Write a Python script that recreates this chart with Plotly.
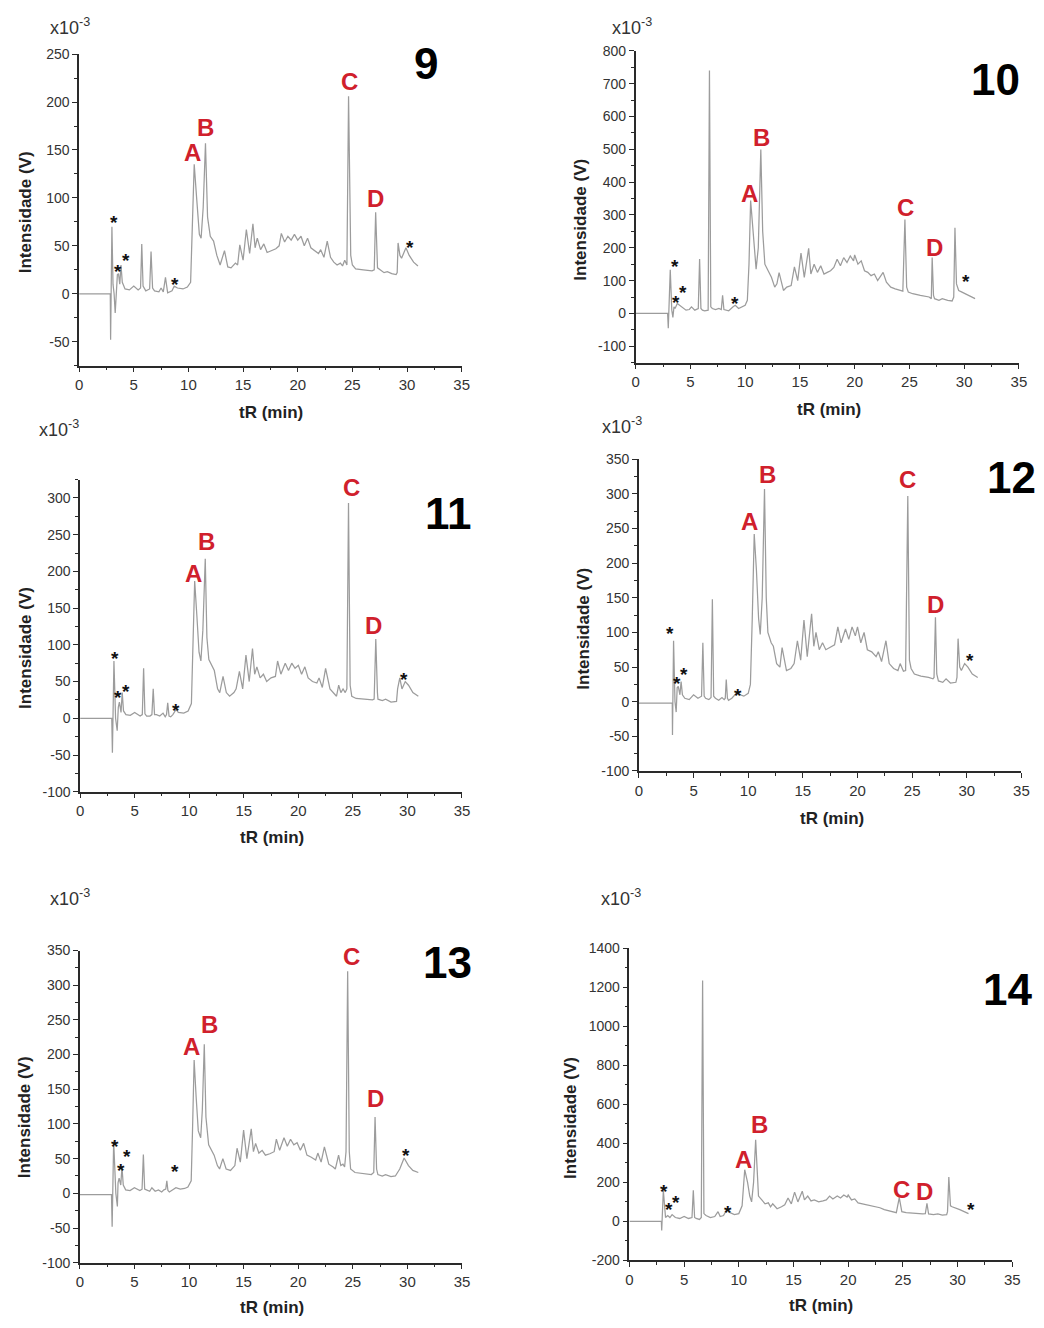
import plotly.graph_objects as go

# ---------------- data ----------------
# Sample 9
t9 = [
    0, 2.85, 2.88, 3.0, 3.1, 3.2, 3.3, 3.4, 3.5, 3.6,
    3.72, 3.83, 3.95, 4.2, 4.6, 5.0, 5.4, 5.62, 5.73, 5.85,
    6.1, 6.45, 6.58, 6.72, 6.9, 7.3, 7.5, 7.7, 7.9, 8.1,
    8.5, 8.7, 9.0, 9.5, 9.9, 10.2, 10.35, 10.53, 10.75, 11.0,
    11.16, 11.35, 11.56, 11.75, 12.0, 12.3, 12.6, 12.9, 13.3, 13.6,
    13.9, 14.3, 14.5, 14.7, 15.0, 15.3, 15.6, 15.9, 16.1, 16.3,
    16.6, 16.9, 17.2, 17.6, 18.0, 18.3, 18.5, 18.8, 19.1, 19.4,
    19.7, 20.0, 20.3, 20.6, 20.9, 21.2, 21.6, 21.9, 22.1, 22.4,
    22.7, 23.0, 23.3, 23.6, 23.9, 24.1, 24.3, 24.5, 24.65, 24.85,
    25.0, 25.3, 26.0, 26.8, 27.0, 27.13, 27.3, 27.5, 27.9, 28.2,
    28.6, 29.0, 29.1, 29.18, 29.35, 29.5, 29.9, 30.2, 30.6, 31.0]
i9 = [
    0, 0, -48, 70, 10, 0, -20, 5, 20, 21,
    10, 30, 12, 5, 4, 8, 4, 6, 52, 8,
    3, 5, 44, 6, 3, 2, 6, 2, 17, 1,
    3, 8, 6, 5, 7, 12, 60, 135, 100, 62,
    58, 90, 157, 80, 60, 55, 40, 30, 45, 28,
    27, 32, 30, 51, 35, 67, 42, 73, 48, 58,
    46, 52, 43, 45, 47, 50, 63, 54, 60, 56,
    62, 56, 60, 50, 58, 48, 45, 42, 46, 38,
    55, 38, 33, 30, 32, 29, 35, 30, 206, 40,
    30, 26, 25, 24, 25, 85, 27, 25, 22, 23,
    21, 20, 22, 53, 40, 37, 48, 40, 33, 29]

# Sample 10
t10 = [
    0, 2.92, 2.98, 3.16, 3.3, 3.4, 3.5, 3.6, 3.8, 4.0,
    4.3, 4.6, 4.9, 5.1, 5.4, 5.72, 5.84, 5.96, 6.1, 6.3,
    6.62, 6.74, 6.86, 7.0, 7.3, 7.6, 7.82, 7.94, 8.06, 8.2,
    8.5, 8.9, 9.1, 9.4, 9.7, 10.0, 10.2, 10.35, 10.5, 10.7,
    10.85, 11.0, 11.2, 11.43, 11.6, 11.8, 12.1, 12.4, 12.7, 12.9,
    13.1, 13.5, 13.8, 14.2, 14.5, 14.8, 15.1, 15.4, 15.8, 16.0,
    16.3, 16.6, 16.9, 17.2, 17.5, 17.8, 18.1, 18.4, 18.7, 19.0,
    19.3, 19.6, 19.9, 20.0, 20.3, 20.6, 20.9, 21.2, 21.5, 21.8,
    22.1, 22.6, 22.9, 23.3, 23.7, 24.1, 24.4, 24.59, 24.75, 24.9,
    25.3, 26.0, 26.8, 27.0, 27.08, 27.2, 27.3, 27.7, 28.0, 28.5,
    28.9, 29.05, 29.16, 29.3, 29.5, 29.8, 30.1, 30.5, 31.0]
i10 = [
    0, 0, -45, 133, 10, -12, 20, 15, 30, 25,
    15, 10, 12, 20, 10, 15, 166, 15, 10, 8,
    10, 740, 20, 15, 12, 15, 12, 55, 12, 10,
    8, 20, 25, 15, 20, 25, 40, 150, 344, 260,
    170, 135, 200, 499, 250, 150, 130, 110, 80, 90,
    124, 70, 80, 85, 142, 100, 184, 110, 198, 120,
    150, 125, 145, 120, 125, 130, 140, 165, 145, 170,
    155, 175, 160, 178, 150, 160, 130, 125, 115, 120,
    100, 125, 95, 80, 75, 70, 68, 286, 80, 65,
    60, 55, 50, 45, 170, 55, 45, 40, 45, 40,
    38, 50, 261, 90, 70, 65, 60, 52, 45]

# Sample 11
t11 = [
    0, 2.9, 2.96, 3.1, 3.25, 3.4, 3.5, 3.6, 3.75, 3.86,
    3.98, 4.2, 4.6, 5.0, 5.5, 5.7, 5.82, 5.94, 6.1, 6.4,
    6.58, 6.7, 6.82, 7.0, 7.3, 7.6, 7.8, 7.92, 8.03, 8.15,
    8.3, 8.5, 8.8, 9.0, 9.5, 9.9, 10.2, 10.32, 10.5, 10.7,
    10.9, 11.07, 11.25, 11.47, 11.62, 11.8, 12.1, 12.3, 12.6, 12.8,
    13.1, 13.4, 13.7, 14.1, 14.3, 14.6, 14.9, 15.2, 15.5, 15.8,
    16.0, 16.2, 16.5, 16.8, 17.1, 17.5, 17.9, 18.1, 18.4, 18.8,
    19.1, 19.4, 19.7, 20.0, 20.3, 20.6, 20.9, 21.3, 21.7, 21.9,
    22.2, 22.5, 22.9, 23.2, 23.5, 23.7, 23.9, 24.1, 24.3, 24.45,
    24.6, 24.75, 24.9, 25.3, 26.0, 26.8, 26.95, 27.1, 27.25, 27.3,
    27.7, 28.0, 28.5, 29.0, 29.1, 29.3, 29.5, 29.8, 30.1, 30.5,
    31.0]
i11 = [
    0, 0, -47, 78, 0, -17, 15, 22, 8, 35,
    10, 5, 4, 8, 3, 5, 68, 6, 3, 3,
    5, 40, 5, 5, 3, 7, 2, 5, 21, 3,
    2, 5, 12, 8, 7, 10, 20, 90, 187, 140,
    90, 78, 120, 217, 110, 80, 70, 65, 40, 35,
    57, 35, 30, 35, 40, 64, 40, 86, 50, 95,
    60, 70, 55, 60, 50, 55, 57, 78, 60, 75,
    65, 75, 68, 72, 60, 70, 55, 50, 48, 55,
    42, 68, 40, 35, 30, 45, 35, 40, 35, 40,
    293, 45, 30, 27, 26, 25, 26, 108, 35, 26,
    24, 26, 22, 23, 40, 55, 40, 50, 45, 35,
    30]

# Sample 12
t12 = [
    0, 3.05, 3.07, 3.17, 3.3, 3.41, 3.5, 3.6, 3.75, 3.86,
    3.98, 4.2, 4.6, 5.0, 5.4, 5.73, 5.85, 5.97, 6.1, 6.4,
    6.6, 6.72, 6.84, 7.0, 7.3, 7.6, 7.8, 7.9, 7.99, 8.1,
    8.2, 8.5, 8.9, 9.2, 9.6, 10.0, 10.2, 10.37, 10.55, 10.75,
    10.95, 11.1, 11.28, 11.49, 11.65, 11.8, 12.1, 12.3, 12.6, 12.9,
    13.1, 13.5, 13.9, 14.2, 14.5, 14.8, 15.1, 15.4, 15.8, 16.0,
    16.2, 16.5, 16.8, 17.1, 17.5, 17.9, 18.2, 18.5, 18.9, 19.2,
    19.5, 19.8, 20.0, 20.3, 20.6, 20.9, 21.3, 21.7, 21.9, 22.2,
    22.6, 22.9, 23.3, 23.7, 23.9, 24.2, 24.4, 24.6, 24.75, 24.9,
    25.2, 25.8, 26.5, 26.9, 27.0, 27.13, 27.25, 27.4, 27.8, 28.1,
    28.5, 29.0, 29.1, 29.2, 29.35, 29.5, 29.8, 30.1, 30.5, 31.0]
i12 = [
    -2, -2, -48, 88, 0, -15, 20, 22, 10, 29,
    10, 5, 3, 10, 5, 8, 85, 8, 5, 3,
    6, 148, 8, 5, 2, 6, 3, 5, 32, 5,
    2, 5, 12, 10, 8, 12, 25, 120, 242, 190,
    120, 97, 150, 307, 150, 100, 85, 80, 55, 50,
    78, 45, 48, 55, 88, 60, 118, 65, 127, 80,
    100, 75, 85, 75, 78, 82, 108, 85, 105, 90,
    108, 95, 108, 85, 100, 75, 72, 65, 72, 58,
    88, 55, 48, 45, 55, 44, 45, 297, 60, 48,
    40, 37, 35, 33, 35, 122, 40, 30, 28, 33,
    27, 28, 35, 91, 50, 45, 55, 50, 40, 35]

# Sample 13
t13 = [
    0, 2.9, 2.96, 3.1, 3.3, 3.44, 3.5, 3.6, 3.75, 3.86,
    3.98, 4.2, 4.6, 5.0, 5.5, 5.7, 5.82, 5.94, 6.1, 6.4,
    6.6, 6.9, 7.2, 7.5, 7.7, 7.87, 7.97, 8.07, 8.2, 8.5,
    8.8, 9.2, 9.6, 9.9, 10.2, 10.32, 10.47, 10.65, 10.85, 11.07,
    11.22, 11.4, 11.55, 11.8, 12.1, 12.3, 12.6, 12.8, 13.1, 13.4,
    13.8, 14.1, 14.2, 14.4, 14.7, 15.0, 15.3, 15.7, 15.9, 16.1,
    16.4, 16.7, 17.0, 17.4, 17.8, 18.0, 18.3, 18.7, 19.0, 19.3,
    19.6, 19.9, 20.2, 20.5, 20.8, 21.2, 21.6, 21.8, 22.1, 22.4,
    22.8, 23.2, 23.4, 23.7, 23.9, 24.1, 24.25, 24.38, 24.53, 24.68,
    24.8, 25.2, 26.0, 26.7, 26.92, 27.04, 27.18, 27.3, 27.7, 28.0,
    28.5, 28.9, 29.1, 29.3, 29.7, 30.1, 30.5, 31.0]
i13 = [
    -2, -2, -48, 75, 0, -19, 15, 22, 12, 38,
    12, 5, 4, 8, 4, 6, 56, 6, 5, 3,
    8, 3, 5, 2, 5, 6, 18, 4, 2, 5,
    8, 6, 7, 9, 18, 90, 192, 140, 90, 80,
    120, 215, 110, 70, 60, 55, 40, 35, 50, 35,
    33, 38, 40, 65, 45, 91, 50, 93, 60, 72,
    58, 62, 55, 57, 60, 78, 62, 80, 68, 78,
    70, 73, 62, 72, 55, 52, 48, 58, 45, 67,
    42, 38, 35, 55, 40, 42, 38, 60, 320, 60,
    35, 30, 28, 27, 30, 110, 35, 27, 25, 27,
    24, 25, 30, 35, 51, 40, 33, 30]

# Sample 14
t14 = [
    0, 2.92, 2.95, 3.1, 3.3, 3.5, 3.7, 3.9, 4.2, 4.6,
    5.0, 5.4, 5.72, 5.84, 5.96, 6.1, 6.4, 6.57, 6.69, 6.81,
    7.0, 7.4, 7.8, 8.1, 8.3, 8.6, 8.9, 9.2, 9.6, 10.0,
    10.3, 10.54, 10.8, 11.0, 11.17, 11.35, 11.54, 11.7, 11.8, 12.1,
    12.4, 12.7, 12.9, 13.1, 13.5, 13.9, 14.2, 14.5, 14.8, 15.1,
    15.4, 15.8, 16.0, 16.3, 16.6, 16.9, 17.3, 17.7, 18.0, 18.3,
    18.6, 19.0, 19.3, 19.6, 19.9, 20.0, 20.3, 20.6, 20.9, 21.3,
    21.7, 22.1, 22.5, 22.9, 23.3, 23.7, 24.1, 24.4, 24.67, 24.9,
    25.3, 26.0, 26.8, 27.05, 27.2, 27.35, 27.8, 28.2, 28.6, 29.0,
    29.08, 29.2, 29.35, 29.5, 29.8, 30.2, 30.6, 31.0]
i14 = [
    0, 0, -46, 160, 20, 30, 20, 35, 20, 15,
    25, 15, 20, 160, 20, 15, 10, 20, 1235, 40,
    30, 20, 25, 50, 25, 30, 60, 45, 35, 40,
    80, 265, 200, 130, 100, 200, 418, 200, 130, 110,
    90, 95, 75, 90, 65, 75, 85, 120, 90, 150,
    100, 155, 110, 130, 105, 110, 100, 105, 110, 130,
    115, 130, 120, 135, 125, 135, 110, 115, 95, 90,
    85, 80, 78, 70, 60, 55, 48, 45, 122, 50,
    45, 40, 38, 40, 92, 38, 35, 38, 32, 35,
    50, 227, 80, 75, 70, 60, 50, 40]

# Tick labels
x_ticks = [0, 5, 10, 15, 20, 25, 30, 35]
y_ticks_9 = [-50, 0, 50, 100, 150, 200, 250]
y_ticks_10 = [-100, 0, 100, 200, 300, 400, 500, 600, 700, 800]
y_ticks_11 = [-100, -50, 0, 50, 100, 150, 200, 250, 300]
y_ticks_12 = [-100, -50, 0, 50, 100, 150, 200, 250, 300, 350]
y_ticks_13 = [-100, -50, 0, 50, 100, 150, 200, 250, 300, 350]
y_ticks_14 = [-200, 0, 200, 400, 600, 800, 1000, 1200, 1400]

peak_names = ["A", "B", "C", "D"]
sample_names = ["9", "10", "11", "12", "13", "14"]

# ---------------- layout / positions (pixels) ----------------
W, H = 1044, 1328
FONT = "Liberation Sans, Arial, sans-serif"
RED = "#d0202c"
LINE = "#9c9c9c"
AX = "#2a2a2a"


def fx(p):
    return p / W


def fy(p):
    return 1 - p / H


panels = [
    dict(t=t9, v=i9, yt=y_ticks_9, yr=[-75, 250], ydt=25,
         box=(76, 463, 46.7, 362),
         ylab=(22, 207), xlab=(270, 409), scale=(45, 19), num=(427, 56),
         labels=[(10.4, 147), (11.6, 173), (24.7, 221), (27.1, 99)],
         stars=[(3.17, 80), (3.6, 28), (4.3, 40), (8.8, 15), (30.3, 53)]),
    dict(t=t10, v=i10, yt=y_ticks_10, yr=[-150, 800], ydt=50,
         box=(639, 1026.7, 43.3, 359),
         ylab=(583, 214), xlab=(835, 406), scale=(613, 19), num=(1003, 72),
         labels=[(10.4, 366), (11.5, 536), (24.6, 324), (27.3, 201)],
         stars=[(3.55, 158), (4.3, 80), (3.64, 48), (9.1, 44), (30.2, 113)]),
    dict(t=t11, v=i11, yt=y_ticks_11, yr=[-100, 325], ydt=25,
         box=(77, 463.3, 477.3, 793.3),
         ylab=(21, 648), xlab=(271, 840), scale=(33, 426), num=(450, 512),
         labels=[(10.35, 197), (11.6, 240), (24.9, 314), (26.9, 126)],
         stars=[(3.23, 88), (3.44, 35), (4.2, 43), (8.75, 18), (29.7, 59)]),
    dict(t=t12, v=i12, yt=y_ticks_12, yr=[-100, 350], ydt=25,
         box=(642.3, 1029.3, 456.7, 772.3),
         ylab=(586, 628), xlab=(838, 820), scale=(603, 423), num=(1019, 475),
         labels=[(10.1, 260), (11.76, 328), (24.6, 320), (27.1, 140)],
         stars=[(2.86, 105), (3.5, 33), (4.1, 47), (9.07, 16), (30.3, 67)]),
    dict(t=t13, v=i13, yt=y_ticks_13, yr=[-100, 350], ydt=25,
         box=(76.7, 463.3, 954, 1270),
         ylab=(21, 1123), xlab=(271, 1315), scale=(45, 900), num=(449, 966),
         labels=[(10.26, 212), (11.9, 243), (24.9, 341), (27.1, 136)],
         stars=[(3.26, 75), (3.8, 40), (4.35, 60), (8.75, 38), (29.9, 62)]),
    dict(t=t14, v=i14, yt=y_ticks_14, yr=[-200, 1400], ydt=100,
         box=(632.7, 1020, 951.7, 1267.7),
         ylab=(573, 1123), xlab=(827, 1313), scale=(602, 900), num=(1015, 993),
         labels=[(10.4, 316), (11.87, 497), (24.85, 163), (27.0, 151)],
         stars=[(3.16, 181), (3.6, 85), (4.25, 122), (8.98, 70), (31.2, 87)]),
]

fig = go.Figure()
annotations = []
layout_axes = {}

for k, p in enumerate(panels, start=1):
    xs = "" if k == 1 else str(k)
    xname, yname = "x" + xs, "y" + xs
    fig.add_trace(go.Scatter(x=p["t"], y=p["v"], mode="lines",
                             line=dict(color=LINE, width=1.25),
                             xaxis=xname, yaxis=yname,
                             showlegend=False, hoverinfo="skip"))
    x0, x1, ytop, ybot = p["box"]
    layout_axes["xaxis" + xs] = dict(
        domain=[fx(x0), fx(x1)], range=[0, 35], anchor=yname,
        tickmode="array", tickvals=x_ticks, ticktext=[str(v) for v in x_ticks],
        ticks="outside", ticklen=5, tickwidth=1.3, tickcolor=AX,
        showline=True, linecolor=AX, linewidth=1.5,
        showgrid=False, zeroline=False,
        tickfont=dict(family=FONT, size=15, color="#333333"),
        minor=dict(tickmode="linear", tick0=0, dtick=2.5, ticks="outside",
                   ticklen=3, tickwidth=1.1, tickcolor=AX, showgrid=False),
    )
    layout_axes["yaxis" + xs] = dict(
        domain=[fy(ybot), fy(ytop)], range=p["yr"], anchor=xname,
        tickmode="array", tickvals=p["yt"],
        ticktext=[str(v) for v in p["yt"]],
        ticks="outside", ticklen=5, tickwidth=1.3, tickcolor=AX,
        showline=True, linecolor=AX, linewidth=1.5,
        showgrid=False, zeroline=False,
        tickfont=dict(family=FONT, size=14, color="#333333"),
        minor=dict(tickmode="linear", tick0=0, dtick=p["ydt"], ticks="outside",
                   ticklen=3, tickwidth=1.1, tickcolor=AX, showgrid=False),
    )
    # peak labels
    for name, (lx, ly) in zip(peak_names, p["labels"]):
        annotations.append(dict(x=lx, y=ly, xref=xname, yref=yname, text="<b>" + name + "</b>",
                                showarrow=False, xanchor="center", yanchor="middle",
                                font=dict(family=FONT, size=24, color=RED)))
    # asterisks
    for sx, sy in p["stars"]:
        annotations.append(dict(x=sx, y=sy, xref=xname, yref=yname, text="<b>*</b>",
                                showarrow=False, xanchor="center", yanchor="middle",
                                yshift=-5,
                                font=dict(family=FONT, size=19, color="#111111")))
    # axis titles
    annotations.append(dict(x=fx(p["ylab"][0]), y=fy(p["ylab"][1]), xref="paper", yref="paper",
                            text="<b>Intensidade (V)</b>", textangle=-90, showarrow=False,
                            xanchor="center", yanchor="middle",
                            font=dict(family=FONT, size=17, color="#222222")))
    annotations.append(dict(x=fx(p["xlab"][0]), y=fy(p["xlab"][1]), xref="paper", yref="paper",
                            text="<b>tR (min)</b>", showarrow=False,
                            xanchor="center", yanchor="middle",
                            font=dict(family=FONT, size=17, color="#222222")))
    # scale factor
    annotations.append(dict(x=fx(p["scale"][0]), y=fy(p["scale"][1]), xref="paper", yref="paper",
                            text="x10<sup>-3</sup>", showarrow=False,
                            xanchor="left", yanchor="middle",
                            font=dict(family=FONT, size=18, color="#333333")))
    # sample number
    annotations.append(dict(x=fx(p["num"][0]), y=fy(p["num"][1]), xref="paper", yref="paper",
                            text="<b>" + sample_names[k - 1] + "</b>", showarrow=False,
                            xanchor="center", yanchor="middle",
                            font=dict(family=FONT, size=44, color="#000000")))

fig.update_layout(
    width=W, height=H,
    margin=dict(l=0, r=0, t=0, b=0),
    paper_bgcolor="white", plot_bgcolor="white",
    showlegend=False,
    annotations=annotations,
    **layout_axes,
)

fig.write_html(
    "out.html",
    config={"displayModeBar": False},
    post_script="document.body.style.margin='0px';document.body.style.overflow='hidden';",
)
